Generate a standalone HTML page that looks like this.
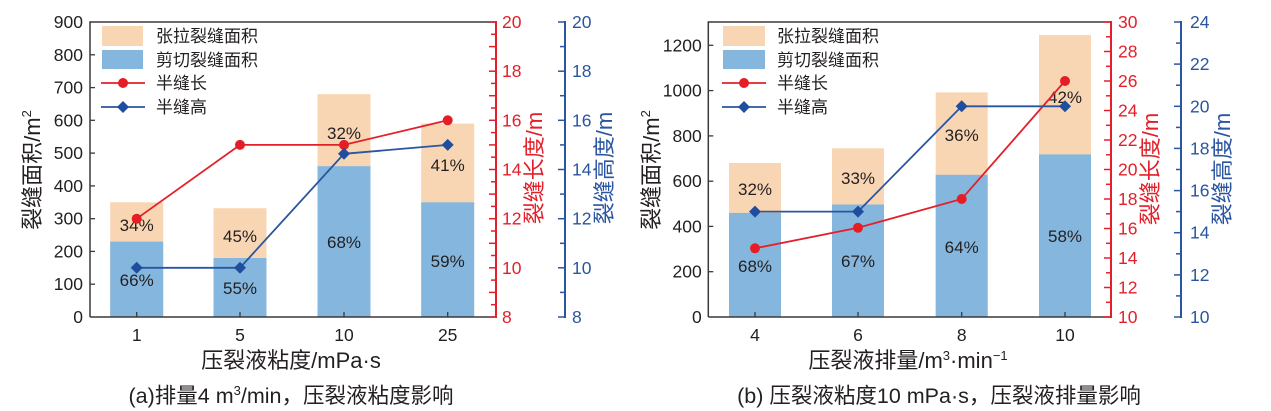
<!DOCTYPE html>
<html><head><meta charset="utf-8"><style>
html,body{margin:0;padding:0;background:#fff;}
svg{display:block;}
text{font-family:"Liberation Sans","Noto Sans CJK SC",sans-serif;fill:#231f20;}
</style></head><body>
<svg width="1271" height="411" viewBox="0 0 1271 411" xmlns="http://www.w3.org/2000/svg">
<!-- ================= CHART A ================= -->
<g>
<!-- bars -->
<g>
<rect x="110.2" y="202.3" width="53" height="114.7" fill="#f9d6b3"/>
<rect x="110.2" y="241.6" width="53" height="75.4" fill="#85b7de"/>
<rect x="213.5" y="208.2" width="53" height="108.8" fill="#f9d6b3"/>
<rect x="213.5" y="258" width="53" height="59" fill="#85b7de"/>
<rect x="317.5" y="94.1" width="53" height="222.9" fill="#f9d6b3"/>
<rect x="317.5" y="166.2" width="53" height="150.8" fill="#85b7de"/>
<rect x="421.2" y="123.6" width="53" height="193.4" fill="#f9d6b3"/>
<rect x="421.2" y="202.3" width="53" height="114.7" fill="#85b7de"/>
</g>
<!-- percent labels -->
<g font-size="17" text-anchor="middle">
<text x="136.7" y="231">34%</text>
<text x="136.7" y="286">66%</text>
<text x="240" y="242">45%</text>
<text x="240" y="294">55%</text>
<text x="344" y="139">32%</text>
<text x="344" y="248">68%</text>
<text x="447.7" y="171">41%</text>
<text x="447.7" y="267">59%</text>
</g>
<!-- lines -->
<polyline points="136.7,218.7 240,144.9 344,144.9 447.7,120.3" fill="none" stroke="#e3202a" stroke-width="1.8"/>
<g fill="#e51e25">
<circle cx="136.7" cy="218.7" r="5"/><circle cx="240" cy="144.9" r="5"/><circle cx="344" cy="144.9" r="5"/><circle cx="447.7" cy="120.3" r="5"/>
</g>
<polyline points="136.7,267.8 240,267.8 344,153.8 447.7,144.9" fill="none" stroke="#2a55a0" stroke-width="1.8"/>
<g fill="#1f4e9e">
<path d="M136.7,261.8 l6,6 l-6,6 l-6,-6z"/><path d="M240,261.8 l6,6 l-6,6 l-6,-6z"/><path d="M344,147.8 l6,6 l-6,6 l-6,-6z"/><path d="M447.7,138.9 l6,6 l-6,6 l-6,-6z"/>
</g>
<!-- axes -->
<line x1="90" y1="22" x2="496" y2="22" stroke="#3a3a3a" stroke-width="1.5"/>
<line x1="90" y1="21.3" x2="90" y2="317" stroke="#3a3a3a" stroke-width="1.5"/>
<line x1="90" y1="317" x2="496" y2="317" stroke="#3a3a3a" stroke-width="1.5"/>
<g stroke="#3a3a3a" stroke-width="1.3">
<line x1="90" y1="284.2" x2="95" y2="284.2"/><line x1="90" y1="251.4" x2="95" y2="251.4"/><line x1="90" y1="218.7" x2="95" y2="218.7"/><line x1="90" y1="185.9" x2="95" y2="185.9"/><line x1="90" y1="153.1" x2="95" y2="153.1"/><line x1="90" y1="120.3" x2="95" y2="120.3"/><line x1="90" y1="87.6" x2="95" y2="87.6"/><line x1="90" y1="54.8" x2="95" y2="54.8"/>
<line x1="136.7" y1="317" x2="136.7" y2="312"/><line x1="240" y1="317" x2="240" y2="312"/><line x1="344" y1="317" x2="344" y2="312"/><line x1="447.7" y1="317" x2="447.7" y2="312"/>
</g>
<g font-size="17.5" text-anchor="end">
<text x="83" y="323">0</text><text x="83" y="290.2">100</text><text x="83" y="257.4">200</text><text x="83" y="224.7">300</text><text x="83" y="191.9">400</text><text x="83" y="159.1">500</text><text x="83" y="126.3">600</text><text x="83" y="93.6">700</text><text x="83" y="60.8">800</text><text x="83" y="28">900</text>
</g>
<g font-size="17.5" text-anchor="middle">
<text x="136.7" y="341">1</text><text x="240" y="341">5</text><text x="344" y="341">10</text><text x="447.7" y="341">25</text>
</g>
<!-- red axis -->
<line x1="496" y1="21" x2="496" y2="318" stroke="#e3202a" stroke-width="2"/>
<g stroke="#e3202a" stroke-width="1.5">
<line x1="489" y1="317" x2="496" y2="317"/><line x1="491" y1="304.7" x2="496" y2="304.7"/><line x1="489" y1="292.4" x2="496" y2="292.4"/><line x1="491" y1="280.1" x2="496" y2="280.1"/><line x1="489" y1="267.8" x2="496" y2="267.8"/><line x1="491" y1="255.5" x2="496" y2="255.5"/><line x1="489" y1="243.3" x2="496" y2="243.3"/><line x1="491" y1="231" x2="496" y2="231"/><line x1="489" y1="218.7" x2="496" y2="218.7"/><line x1="491" y1="206.4" x2="496" y2="206.4"/><line x1="489" y1="194.1" x2="496" y2="194.1"/><line x1="491" y1="181.8" x2="496" y2="181.8"/><line x1="489" y1="169.5" x2="496" y2="169.5"/><line x1="491" y1="157.2" x2="496" y2="157.2"/><line x1="489" y1="144.9" x2="496" y2="144.9"/><line x1="491" y1="132.6" x2="496" y2="132.6"/><line x1="489" y1="120.3" x2="496" y2="120.3"/><line x1="491" y1="108" x2="496" y2="108"/><line x1="489" y1="95.7" x2="496" y2="95.7"/><line x1="491" y1="83.4" x2="496" y2="83.4"/><line x1="489" y1="71.2" x2="496" y2="71.2"/><line x1="491" y1="58.9" x2="496" y2="58.9"/><line x1="489" y1="46.6" x2="496" y2="46.6"/><line x1="491" y1="34.3" x2="496" y2="34.3"/><line x1="489" y1="22" x2="496" y2="22"/>
</g>
<g font-size="17.5" fill="#e3202a" style="fill:#e3202a">
<text x="502" y="323" style="fill:#e3202a">8</text><text x="502" y="273.8" style="fill:#e3202a">10</text><text x="502" y="224.7" style="fill:#e3202a">12</text><text x="502" y="175.5" style="fill:#e3202a">14</text><text x="502" y="126.3" style="fill:#e3202a">16</text><text x="502" y="77.2" style="fill:#e3202a">18</text><text x="502" y="28" style="fill:#e3202a">20</text>
</g>
<!-- blue axis -->
<line x1="565" y1="21" x2="565" y2="318" stroke="#2a55a0" stroke-width="2"/>
<g stroke="#2a55a0" stroke-width="1.5">
<line x1="558" y1="317" x2="565" y2="317"/><line x1="560" y1="292.4" x2="565" y2="292.4"/><line x1="558" y1="267.8" x2="565" y2="267.8"/><line x1="560" y1="243.3" x2="565" y2="243.3"/><line x1="558" y1="218.7" x2="565" y2="218.7"/><line x1="560" y1="194.1" x2="565" y2="194.1"/><line x1="558" y1="169.5" x2="565" y2="169.5"/><line x1="560" y1="144.9" x2="565" y2="144.9"/><line x1="558" y1="120.3" x2="565" y2="120.3"/><line x1="560" y1="95.7" x2="565" y2="95.7"/><line x1="558" y1="71.2" x2="565" y2="71.2"/><line x1="560" y1="46.6" x2="565" y2="46.6"/><line x1="558" y1="22" x2="565" y2="22"/>
</g>
<g font-size="17.5">
<text x="572" y="323" style="fill:#2a55a0">8</text><text x="572" y="273.8" style="fill:#2a55a0">10</text><text x="572" y="224.7" style="fill:#2a55a0">12</text><text x="572" y="175.5" style="fill:#2a55a0">14</text><text x="572" y="126.3" style="fill:#2a55a0">16</text><text x="572" y="77.2" style="fill:#2a55a0">18</text><text x="572" y="28" style="fill:#2a55a0">20</text>
</g>
<!-- axis titles -->
<text font-size="22" text-anchor="middle" transform="translate(40,170) rotate(-90)">裂缝面积/m<tspan font-size="13" dy="-9">2</tspan></text>
<text font-size="22" text-anchor="middle" transform="translate(542,168) rotate(-90)" style="fill:#e3202a">裂缝长度/m</text>
<text font-size="22" text-anchor="middle" transform="translate(612,168) rotate(-90)" style="fill:#2a55a0">裂缝高度/m</text>
<text x="291" y="368" font-size="22" text-anchor="middle">压裂液粘度/mPa·s</text>
<text x="291" y="403" font-size="21.5" text-anchor="middle">(a)排量4 m<tspan font-size="13" dy="-8">3</tspan><tspan dy="8">/min，压裂液粘度影响</tspan></text>
<!-- legend -->
<rect x="102" y="26" width="41" height="20" fill="#f9d6b3"/>
<rect x="102" y="50" width="41" height="19" fill="#85b7de"/>
<line x1="101" y1="83" x2="145" y2="83" stroke="#e3202a" stroke-width="1.8"/>
<circle cx="123" cy="83" r="5" fill="#e51e25"/>
<line x1="101" y1="107" x2="145" y2="107" stroke="#2a55a0" stroke-width="1.8"/>
<path d="M123,101 l6,6 l-6,6 l-6,-6z" fill="#1f4e9e"/>
<g font-size="17">
<text x="156" y="42">张拉裂缝面积</text><text x="156" y="66">剪切裂缝面积</text><text x="156" y="89">半缝长</text><text x="156" y="113">半缝高</text>
</g>
</g>

<!-- ================= CHART B ================= -->
<g>
<g>
<rect x="729" y="163" width="52" height="154" fill="#f9d6b3"/>
<rect x="729" y="212.9" width="52" height="104.1" fill="#85b7de"/>
<rect x="832" y="148.3" width="52" height="168.7" fill="#f9d6b3"/>
<rect x="832" y="204.5" width="52" height="112.5" fill="#85b7de"/>
<rect x="935.7" y="92.4" width="52" height="224.6" fill="#f9d6b3"/>
<rect x="935.7" y="174.8" width="52" height="142.2" fill="#85b7de"/>
<rect x="1039" y="35.1" width="52" height="281.9" fill="#f9d6b3"/>
<rect x="1039" y="154.4" width="52" height="162.6" fill="#85b7de"/>
</g>
<g font-size="17" text-anchor="middle">
<text x="755" y="195">32%</text>
<text x="755" y="272">68%</text>
<text x="858" y="184">33%</text>
<text x="858" y="267">67%</text>
<text x="961.7" y="141">36%</text>
<text x="961.7" y="253">64%</text>
<text x="1065" y="103">42%</text>
<text x="1065" y="242">58%</text>
</g>
<polyline points="755,248.3 858,227.8 961.7,199 1065,81" fill="none" stroke="#e3202a" stroke-width="1.8"/>
<g fill="#e51e25">
<circle cx="755" cy="248.3" r="5"/><circle cx="858" cy="227.8" r="5"/><circle cx="961.7" cy="199" r="5"/><circle cx="1065" cy="81" r="5"/>
</g>
<polyline points="755,211.6 858,211.6 961.7,106.3 1065,106.3" fill="none" stroke="#2a55a0" stroke-width="1.8"/>
<g fill="#1f4e9e">
<path d="M755,205.6 l6,6 l-6,6 l-6,-6z"/><path d="M858,205.6 l6,6 l-6,6 l-6,-6z"/><path d="M961.7,100.3 l6,6 l-6,6 l-6,-6z"/><path d="M1065,100.3 l6,6 l-6,6 l-6,-6z"/>
</g>
<line x1="708.3" y1="22" x2="1111" y2="22" stroke="#3a3a3a" stroke-width="1.5"/>
<line x1="708.3" y1="21.3" x2="708.3" y2="317" stroke="#3a3a3a" stroke-width="1.5"/>
<line x1="708.3" y1="317" x2="1111" y2="317" stroke="#3a3a3a" stroke-width="1.5"/>
<g stroke="#3a3a3a" stroke-width="1.3">
<line x1="708.3" y1="271.7" x2="713.3" y2="271.7"/><line x1="708.3" y1="226.4" x2="713.3" y2="226.4"/><line x1="708.3" y1="181.2" x2="713.3" y2="181.2"/><line x1="708.3" y1="135.9" x2="713.3" y2="135.9"/><line x1="708.3" y1="90.6" x2="713.3" y2="90.6"/><line x1="708.3" y1="45.3" x2="713.3" y2="45.3"/>
<line x1="755" y1="317" x2="755" y2="312"/><line x1="858" y1="317" x2="858" y2="312"/><line x1="961.7" y1="317" x2="961.7" y2="312"/><line x1="1065" y1="317" x2="1065" y2="312"/>
</g>
<g font-size="17.5" text-anchor="end">
<text x="701.7" y="323">0</text><text x="701.7" y="277.7">200</text><text x="701.7" y="232.4">400</text><text x="701.7" y="187.2">600</text><text x="701.7" y="141.9">800</text><text x="701.7" y="96.6">1000</text><text x="701.7" y="51.3">1200</text>
</g>
<g font-size="17.5" text-anchor="middle">
<text x="755" y="341">4</text><text x="858" y="341">6</text><text x="961.7" y="341">8</text><text x="1065" y="341">10</text>
</g>
<!-- red axis b -->
<line x1="1111" y1="21" x2="1111" y2="318" stroke="#e3202a" stroke-width="2"/>
<g stroke="#e3202a" stroke-width="1.5">
<line x1="1104" y1="317" x2="1111" y2="317"/><line x1="1106" y1="302.3" x2="1111" y2="302.3"/><line x1="1104" y1="287.5" x2="1111" y2="287.5"/><line x1="1106" y1="272.8" x2="1111" y2="272.8"/><line x1="1104" y1="258" x2="1111" y2="258"/><line x1="1106" y1="243.3" x2="1111" y2="243.3"/><line x1="1104" y1="228.5" x2="1111" y2="228.5"/><line x1="1106" y1="213.8" x2="1111" y2="213.8"/><line x1="1104" y1="199" x2="1111" y2="199"/><line x1="1106" y1="184.3" x2="1111" y2="184.3"/><line x1="1104" y1="169.5" x2="1111" y2="169.5"/><line x1="1106" y1="154.8" x2="1111" y2="154.8"/><line x1="1104" y1="140" x2="1111" y2="140"/><line x1="1106" y1="125.3" x2="1111" y2="125.3"/><line x1="1104" y1="110.5" x2="1111" y2="110.5"/><line x1="1106" y1="95.8" x2="1111" y2="95.8"/><line x1="1104" y1="81" x2="1111" y2="81"/><line x1="1106" y1="66.3" x2="1111" y2="66.3"/><line x1="1104" y1="51.5" x2="1111" y2="51.5"/><line x1="1106" y1="36.8" x2="1111" y2="36.8"/><line x1="1104" y1="22" x2="1111" y2="22"/>
</g>
<g font-size="17.5">
<text x="1118" y="323" style="fill:#e3202a">10</text><text x="1118" y="293.5" style="fill:#e3202a">12</text><text x="1118" y="264" style="fill:#e3202a">14</text><text x="1118" y="234.5" style="fill:#e3202a">16</text><text x="1118" y="205" style="fill:#e3202a">18</text><text x="1118" y="175.5" style="fill:#e3202a">20</text><text x="1118" y="146" style="fill:#e3202a">22</text><text x="1118" y="116.5" style="fill:#e3202a">24</text><text x="1118" y="87" style="fill:#e3202a">26</text><text x="1118" y="57.5" style="fill:#e3202a">28</text><text x="1118" y="28" style="fill:#e3202a">30</text>
</g>
<!-- blue axis b -->
<line x1="1181" y1="21" x2="1181" y2="318" stroke="#2a55a0" stroke-width="2"/>
<g stroke="#2a55a0" stroke-width="1.5">
<line x1="1174" y1="317" x2="1181" y2="317"/><line x1="1176" y1="295.9" x2="1181" y2="295.9"/><line x1="1174" y1="274.9" x2="1181" y2="274.9"/><line x1="1176" y1="253.8" x2="1181" y2="253.8"/><line x1="1174" y1="232.7" x2="1181" y2="232.7"/><line x1="1176" y1="211.6" x2="1181" y2="211.6"/><line x1="1174" y1="190.6" x2="1181" y2="190.6"/><line x1="1176" y1="169.5" x2="1181" y2="169.5"/><line x1="1174" y1="148.4" x2="1181" y2="148.4"/><line x1="1176" y1="127.4" x2="1181" y2="127.4"/><line x1="1174" y1="106.3" x2="1181" y2="106.3"/><line x1="1176" y1="85.2" x2="1181" y2="85.2"/><line x1="1174" y1="64.1" x2="1181" y2="64.1"/><line x1="1176" y1="43.1" x2="1181" y2="43.1"/><line x1="1174" y1="22" x2="1181" y2="22"/>
</g>
<g font-size="17.5">
<text x="1190" y="323" style="fill:#2a55a0">10</text><text x="1190" y="280.9" style="fill:#2a55a0">12</text><text x="1190" y="238.7" style="fill:#2a55a0">14</text><text x="1190" y="196.6" style="fill:#2a55a0">16</text><text x="1190" y="154.4" style="fill:#2a55a0">18</text><text x="1190" y="112.3" style="fill:#2a55a0">20</text><text x="1190" y="70.1" style="fill:#2a55a0">22</text><text x="1190" y="28" style="fill:#2a55a0">24</text>
</g>
<text font-size="22" text-anchor="middle" transform="translate(659,170) rotate(-90)">裂缝面积/m<tspan font-size="13" dy="-9">2</tspan></text>
<text font-size="22" text-anchor="middle" transform="translate(1158,169) rotate(-90)" style="fill:#e3202a">裂缝长度/m</text>
<text font-size="22" text-anchor="middle" transform="translate(1230,169) rotate(-90)" style="fill:#2a55a0">裂缝高度/m</text>
<text x="908" y="368" font-size="22" text-anchor="middle">压裂液排量/m<tspan font-size="13" dy="-8">3</tspan><tspan dy="8">·min</tspan><tspan font-size="13" dy="-8">−1</tspan></text>
<text x="939" y="403" font-size="21.5" text-anchor="middle">(b) 压裂液粘度10 mPa·s，压裂液排量影响</text>
<rect x="723" y="26" width="42" height="20" fill="#f9d6b3"/>
<rect x="723" y="50" width="42" height="19" fill="#85b7de"/>
<line x1="722" y1="83" x2="766" y2="83" stroke="#e3202a" stroke-width="1.8"/>
<circle cx="744" cy="83" r="5" fill="#e51e25"/>
<line x1="722" y1="107" x2="766" y2="107" stroke="#2a55a0" stroke-width="1.8"/>
<path d="M744,101 l6,6 l-6,6 l-6,-6z" fill="#1f4e9e"/>
<g font-size="17">
<text x="777" y="42">张拉裂缝面积</text><text x="777" y="66">剪切裂缝面积</text><text x="777" y="89">半缝长</text><text x="777" y="113">半缝高</text>
</g>
</g>
</svg>
</body></html>
